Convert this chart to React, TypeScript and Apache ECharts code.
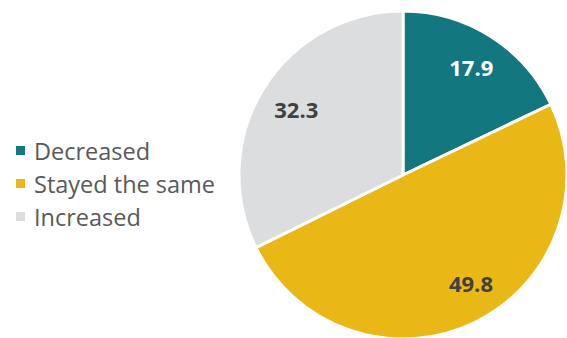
import React, { useEffect, useRef } from "react";
import * as echarts from "echarts";

const categories = ["Decreased", "Stayed the same", "Increased"];
const values = [17.9, 49.8, 32.3];
const colors = ["#13777f", "#e9b817", "#dcdddf"];
const labelColors = ["#ffffff", "#404040", "#404040"];
const labelNudges = [[0, 0], [12, -7], [2, 2]];

export default function App() {
  const ref = useRef<HTMLDivElement>(null);
  useEffect(() => {
    document.body.style.margin = "0";
    const chart = echarts.init(ref.current!, null, { renderer: "svg" });
    const data = categories.map((name, i) => ({
      name,
      value: values[i],
      itemStyle: { color: colors[i] },
    }));
    chart.setOption({
      animation: false,
      legend: {
        orient: "vertical",
        left: 9,
        top: 133,
        itemWidth: 11,
        itemHeight: 11,
        itemGap: 8,
        icon: "rect",
        data: categories,
        textStyle: {
          fontFamily: "Open Sans",
          fontSize: 23.5,
          lineHeight: 25,
          color: "#595959",
          padding: [0, 0, 0, 3],
        },
      },
      series: [
        {
          type: "pie",
          center: [403, 175],
          radius: [0, 164],
          startAngle: 90,
          clockwise: true,
          label: { show: false },
          labelLine: { show: false },
          itemStyle: { borderColor: "#ffffff", borderWidth: 3 },
          data,
        },
        {
          type: "pie",
          center: [403, 175],
          radius: [86, 164],
          startAngle: 90,
          clockwise: true,
          silent: true,
          legendHoverLink: false,
          labelLine: { show: false },
          label: {
            show: true,
            position: "inside",
            formatter: (p: any) => p.value.toFixed(1),
            fontFamily: "Open Sans",
            fontWeight: "bold",
            fontSize: 22,
          },
          data: categories.map((name, i) => ({
            name: name + "_lbl",
            value: values[i],
            itemStyle: { color: "rgba(0,0,0,0)" },
            label: { color: labelColors[i], offset: labelNudges[i] },
          })),
        },
      ],
    });
    return () => chart.dispose();
  }, []);
  return <div ref={ref} style={{ width: 567, height: 338, position: "absolute", left: 0, top: 0 }} />;
}
